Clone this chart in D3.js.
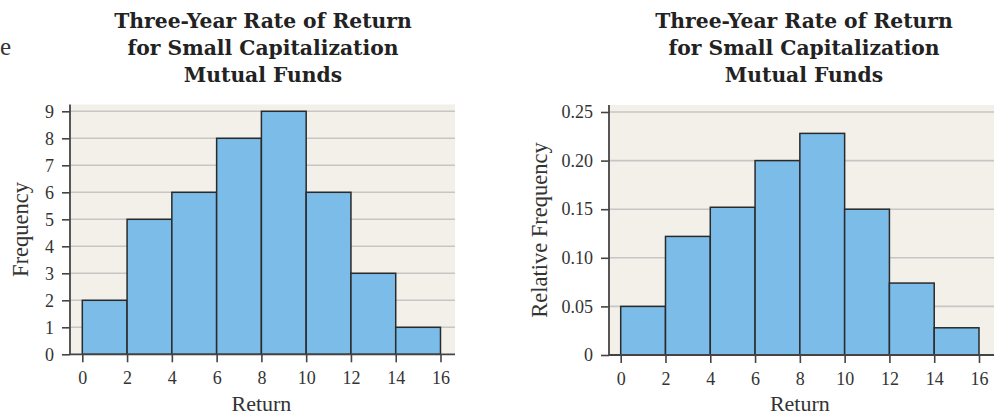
<!DOCTYPE html>
<html><head><meta charset="utf-8">
<script src="https://cdn.jsdelivr.net/npm/d3@7"></script>
<style>body{margin:0;background:#fff}svg{display:block}</style>
</head><body>
<svg id="c" width="1000" height="416"></svg>
<script>
const binStarts = [0, 2, 4, 6, 8, 10, 12, 14];
const binWidth = 2;
const frequencies = [2, 5, 6, 8, 9, 6, 3, 1];
const relativeFrequencies = [0.05, 0.122, 0.152, 0.2, 0.228, 0.15, 0.074, 0.028];
const xTicks = [0, 2, 4, 6, 8, 10, 12, 14, 16];
const freqTicks = [0, 1, 2, 3, 4, 5, 6, 7, 8, 9];
const relTicks = [0, 0.05, 0.10, 0.15, 0.20, 0.25];
const titleLines = ["Three-Year Rate of Return", "for Small Capitalization", "Mutual Funds"];

const svg = d3.select("#c");
const serif = "'Liberation Serif', 'Times New Roman', serif";
const titleFont = "'DejaVu Serif', serif";

svg.append("text").attr("x", 0).attr("y", 55).attr("font-family", serif)
  .attr("font-size", 25).attr("fill", "#333").text("e");

function drawHist(o) {
  const g = svg.append("g");
  const x = d3.scaleLinear().domain([0, 16]).range([o.x0, o.x16]);
  const y = d3.scaleLinear().domain(o.yDomain).range([o.yBottom, o.yTop]);
  g.append("rect").attr("x", o.bgLeft).attr("y", o.bgTop)
    .attr("width", o.bgRight - o.bgLeft).attr("height", o.yBottom - o.bgTop)
    .attr("fill", "#f3f0ea");
  g.append("g").selectAll("line").data(o.ticks.filter(d => d > 0)).join("line")
    .attr("x1", o.bgLeft).attr("x2", o.bgRight)
    .attr("y1", d => y(d)).attr("y2", d => y(d))
    .attr("stroke", "#c6c6c6").attr("stroke-width", 1.6);
  g.append("g").selectAll("rect").data(o.values).join("rect")
    .attr("x", (d, i) => x(binStarts[i]))
    .attr("y", d => y(d))
    .attr("width", (d, i) => x(binStarts[i] + binWidth) - x(binStarts[i]))
    .attr("height", d => y(0) - y(d))
    .attr("fill", "#7bbce8").attr("stroke", "#2a2a2a").attr("stroke-width", 1.5);
  const ya = g.append("g").attr("transform", `translate(${o.bgLeft},0)`)
    .call(d3.axisLeft(y).tickValues(o.ticks).tickFormat(o.fmt).tickSize(8).tickPadding(8));
  ya.select(".domain").remove();
  ya.append("line").attr("x1", 0).attr("x2", 0).attr("y1", o.bgTop).attr("y2", o.yBottom)
    .attr("stroke", "#444").attr("stroke-width", 1.8);
  const xa = g.append("g").attr("transform", `translate(0,${o.yBottom})`)
    .call(d3.axisBottom(x).tickValues(xTicks).tickFormat(d3.format("d")).tickSize(8).tickPadding(9));
  xa.select(".domain").remove();
  xa.append("line").attr("x1", o.bgLeft).attr("x2", o.bgRight).attr("y1", 0).attr("y2", 0)
    .attr("stroke", "#444").attr("stroke-width", 1.8);
  [ya, xa].forEach(a => {
    a.selectAll(".tick line").attr("stroke", "#444").attr("stroke-width", 1.6);
    a.selectAll(".tick text").attr("font-family", serif).attr("font-size", 18).attr("fill", "#333");
  });
  g.append("text").attr("x", (o.x0 + o.x16) / 2).attr("y", 411).attr("text-anchor", "middle")
    .attr("font-family", serif).attr("font-size", 22).attr("fill", "#333").text("Return");
  g.append("text").attr("transform", `translate(${o.yLabelX},${(o.bgTop + o.yBottom) / 2}) rotate(-90)`)
    .attr("text-anchor", "middle").attr("font-family", serif).attr("font-size", 22.5).attr("fill", "#333")
    .text(o.yLabel);
  g.append("g").selectAll("text").data(titleLines).join("text")
    .attr("x", o.titleX).attr("y", (d, i) => 28 + i * 27.2).attr("text-anchor", "middle")
    .attr("font-family", titleFont).attr("font-weight", "bold").attr("font-size", 20.3).attr("fill", "#222")
    .text(d => d);
}

drawHist({
  values: frequencies, ticks: freqTicks, yDomain: [0, 9], fmt: d3.format("d"),
  x0: 82.3, x16: 440.5, yBottom: 354.3, yTop: 111.3,
  bgLeft: 70, bgRight: 455, bgTop: 104.5, yLabelX: 28, yLabel: "Frequency", titleX: 263
});
drawHist({
  values: relativeFrequencies, ticks: relTicks, yDomain: [0, 0.25],
  fmt: d => d === 0 ? "0" : d3.format(".2f")(d),
  x0: 620.7, x16: 979, yBottom: 355, yTop: 112,
  bgLeft: 609, bgRight: 994, bgTop: 105, yLabelX: 547, yLabel: "Relative Frequency", titleX: 804
});
</script>
</body></html>
